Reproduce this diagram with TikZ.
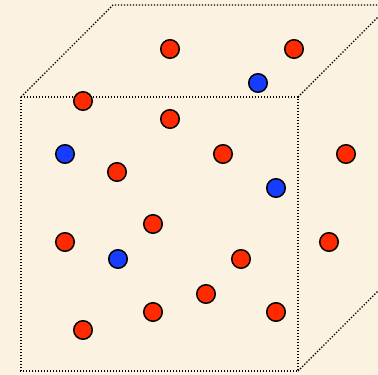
\documentclass[tikz,border=0pt]{standalone}
\definecolor{bgcream}{RGB}{252,242,225}
\definecolor{ballred}{RGB}{255,42,0}
\definecolor{ballblue}{RGB}{22,60,255}
\begin{document}
\begin{tikzpicture}[x=1pt,y=-1pt,
  edge/.style={line width=1.4pt,dash pattern=on 1.3pt off 1.7pt},
  ball/.style={circle,draw=black,line width=1.5pt,minimum size=18.5pt,inner sep=0pt},
  redball/.style={ball,fill=ballred},
  blueball/.style={ball,fill=ballblue}]
\fill[bgcream] (0,0) rectangle (378,375);
\useasboundingbox (0,0) rectangle (378,375);
\begin{scope}
\clip (0,0) rectangle (378,375);
\coordinate (A) at (21,97);
\coordinate (B) at (298,97);
\coordinate (C) at (298,371);
\coordinate (D) at (21,371);
\coordinate (E) at (113,5);
\coordinate (F) at (390,5);
\coordinate (G) at (390,279);
\draw[edge] (A) -- (B) -- (C) -- (D) -- cycle;
\draw[edge] (A) -- (E) -- (F);
\draw[edge] (B) -- (F);
\draw[edge] (C) -- (G);
\end{scope}
\node[redball] (r1) at (170,49) {};
\node[redball] (r2) at (294,49) {};
\node[redball] (r3) at (83,101) {};
\node[redball] (r4) at (170,119) {};
\node[redball] (r5) at (117,172) {};
\node[redball] (r6) at (223,154) {};
\node[redball] (r7) at (346,154) {};
\node[redball] (r8) at (153,224) {};
\node[redball] (r9) at (65,242) {};
\node[redball] (r10) at (153,312) {};
\node[redball] (r11) at (83,330) {};
\node[redball] (r12) at (329,242) {};
\node[redball] (r13) at (241,259) {};
\node[redball] (r14) at (206,294) {};
\node[redball] (r15) at (276,312) {};
\node[blueball] (b1) at (65,154) {};
\node[blueball] (b2) at (258,83) {};
\node[blueball] (b3) at (276,188) {};
\node[blueball] (b4) at (118,259) {};
\end{tikzpicture}
\end{document}
